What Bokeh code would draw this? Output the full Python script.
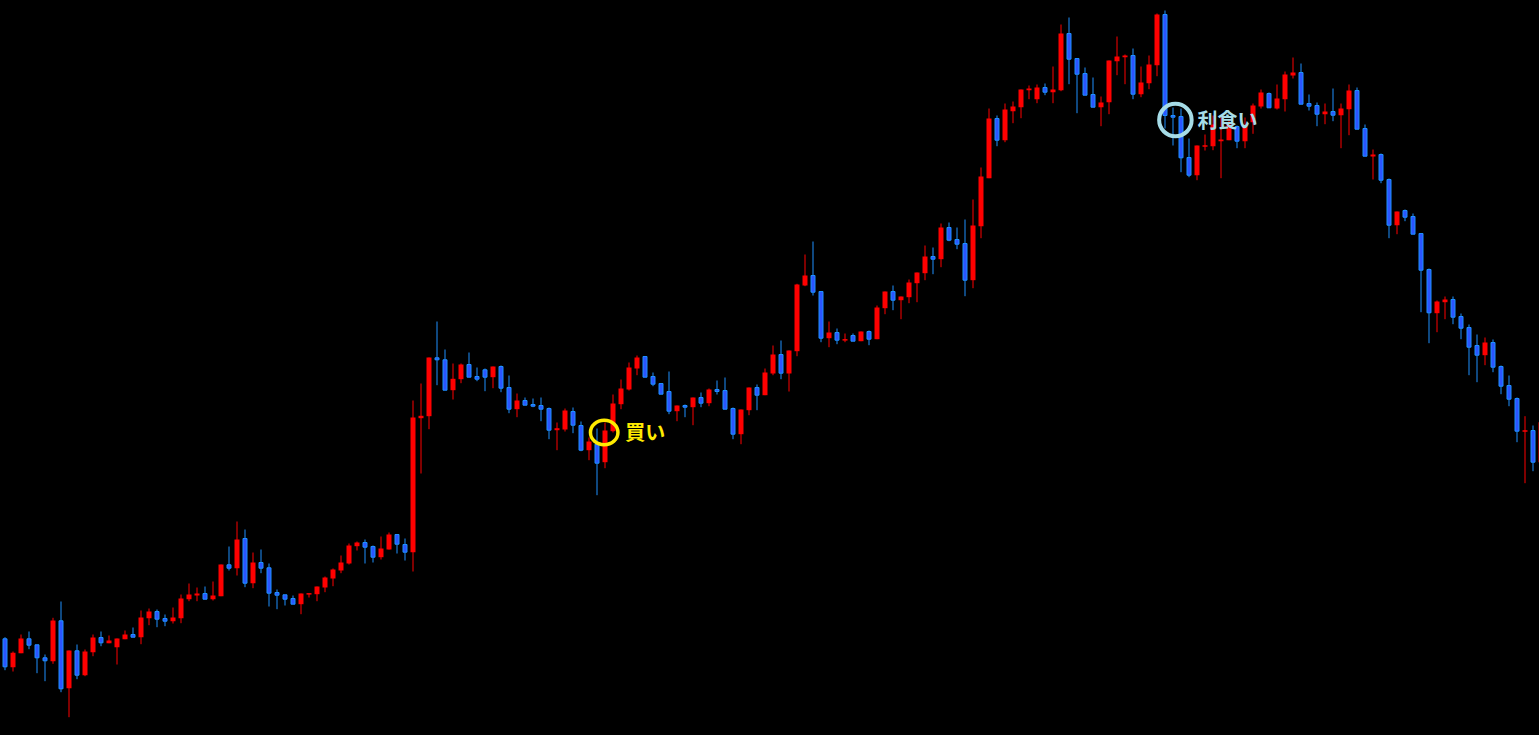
import numpy as np
from bokeh.plotting import figure
from bokeh.models import ColumnDataSource, Range1d
from bokeh.core.properties import value
from bokeh.embed import file_html
from bokeh.resources import INLINE

# OHLC values (price units)
opens = [96.7, 68.3, 82.3, 96.7, 90.7, 77.7, 74.3, 114.7, 47.3, 84.7,
         60.3, 83.3, 98, 92.3, 88.3, 96.3, 101, 98.3, 117.3, 124,
         117, 114.3, 117.3, 136.3, 140, 142, 136.3, 139.3, 170.7, 167.3,
         197, 152.3, 173, 167.7, 143, 140.7, 137, 131.3, 141.3, 141.3,
         148, 157, 165, 172, 189.3, 193, 189, 178.3, 186, 201,
         191, 183.3, 317.3, 319.3, 377.7, 375.7, 345.3, 356.3, 371, 359,
         365.7, 358.3, 369, 348, 326.3, 335, 331, 330, 327, 305.3,
         306, 324, 310, 285.3, 291.3, 273.3, 304.3, 331.3, 346, 367,
         379, 359, 352, 344, 324.3, 330, 328.3, 338, 332.3, 346,
         345, 327, 301.3, 325.3, 348, 340.3, 362, 381, 362, 384.3,
         450, 460, 444, 397.3, 403, 395.3, 400, 394.3, 404, 396.3,
         427.3, 444, 435.3, 438.3, 452.3, 462.3, 479, 476.3, 508, 496,
         492, 455.3, 509.3, 557.3, 617, 595.3, 624.3, 628.3, 645.3, 636.3,
         648, 643.3, 645.3, 702, 677, 662, 641, 628.3, 633.3, 674.3,
         678.3, 680, 641.3, 652.3, 670.3, 721, 620, 619, 578, 560.3,
         589, 589.3, 594.3, 595.3, 609, 594.3, 613.3, 629, 642, 627,
         636.3, 660, 663, 632, 630, 621.3, 624, 620.3, 626.3, 645,
         607, 579, 581, 556, 510.3, 525, 519, 502, 466, 422.3,
         433.3, 436, 419, 408, 390, 380.3, 393, 369, 350, 337,
         304, 305, 273.3]

highs = [98.3, 84, 101, 104, 90.7, 81, 117.7, 134, 85, 91,
         86, 101, 104, 100, 97, 105, 108, 125, 127, 126,
         121, 128, 141, 152, 148, 149, 154, 171, 189, 214,
         206, 183, 186, 172, 146, 140.7, 140, 142, 142, 149,
         159, 167, 180, 192, 194, 196, 190, 199, 203, 201,
         197, 335, 352, 378, 414, 386, 372, 372, 383, 368,
         367, 369, 370, 360, 342, 338, 337, 338, 328, 313,
         327, 328, 314, 298, 307, 313, 341, 356, 373, 380,
         379, 363, 352, 364, 330, 331, 338, 343, 347, 355,
         358, 328, 326, 348, 351, 367, 390, 395, 385, 451.7,
         481, 494, 444, 414, 407, 402, 402, 404, 405, 430,
         444, 450, 439, 456, 463, 490, 488, 512, 513, 508,
         516, 536, 568, 627, 620, 632, 634, 646, 650, 651,
         652, 669, 711, 718, 677, 668, 658, 639, 675, 699,
         681, 687, 669, 680, 722, 725, 628, 627, 597, 590,
         601, 620, 620, 615, 610, 618, 632, 646, 643, 651,
         664, 678, 672, 641, 633, 632, 647, 632, 651, 648,
         611, 586, 582, 557, 524, 526, 522, 502, 467, 435,
         439, 439, 422, 411, 401, 398, 396, 370, 360, 338,
         319.3, 310, 320]

lows = [65.3, 64, 82.3, 86.3, 62.3, 54.3, 71.7, 43.3, 18.3, 56.3,
        59.3, 79.3, 89.3, 92.3, 71, 96.3, 98.3, 91.3, 110.3, 108.3,
        109.3, 112, 112.3, 134.3, 134.3, 136.3, 135, 139.3, 165, 160,
        148.3, 147.3, 162.3, 129, 126.3, 130, 131.3, 121.3, 138, 134.3,
        143.3, 149.3, 162.3, 171, 185, 172, 173, 176, 186, 182,
        175, 164, 262, 306.3, 350.3, 345.3, 336, 352.3, 358.3, 354.3,
        344.3, 347.3, 343.3, 322.3, 318.3, 330.3, 328.3, 314.3, 296.3, 285.3,
        304, 302.3, 284.3, 275.3, 240.3, 267.3, 303, 326.3, 345, 360.3,
        358.3, 349.3, 341.3, 321.3, 314.3, 318.3, 310.3, 328.3, 329.3, 341,
        326.3, 296.3, 291.3, 320.3, 325.3, 340.3, 360.3, 356.3, 344, 379.3,
        449.3, 440, 393.3, 388.3, 391.3, 393.3, 394.3, 394.3, 390.3, 396.3,
        421.3, 425.3, 416.3, 432.3, 433.3, 455.3, 461.3, 468.3, 494.3, 486.3,
        439.3, 447.3, 497.3, 557.3, 589.3, 593.3, 612.3, 617.3, 636.3, 632.3,
        640.3, 632.3, 644.3, 651.3, 622.3, 640.3, 628.3, 609.3, 621.3, 660.3,
        651.3, 636.3, 638.3, 646.3, 659.3, 607, 590, 563.3, 558.3, 555.3,
        585, 585.3, 557.3, 595.3, 587.3, 587.3, 601.7, 627, 627.7, 626,
        624, 657, 631.3, 625, 609.3, 611.3, 614.3, 587.3, 600.3, 606.3,
        579.3, 556, 552.3, 497.3, 501.3, 514.3, 501.3, 423.3, 392.3, 403.3,
        416.3, 411.3, 396.3, 360.3, 353.3, 370.3, 363.3, 341.3, 329.3, 293.3,
        252.3, 264.3, 270]

closes = [68.7, 82.7, 97, 90.3, 77.7, 74.7, 115, 46.7, 85, 60.3,
          84, 98, 92.7, 95, 97, 101, 98.3, 118, 124, 116.3,
          114.3, 118, 137, 141, 142, 136.3, 140, 171, 167.3, 196,
          152.3, 173, 167.3, 142.3, 140.3, 136.3, 131.3, 142, 142, 149,
          158, 166, 173, 190, 193, 188.3, 178.3, 187, 201, 191.3,
          183.3, 318, 319.7, 378, 375.7, 345.3, 356.7, 371, 358.3, 356.3,
          358.3, 369, 347.3, 326.3, 335, 330.3, 329.3, 326.3, 305.3, 307.3,
          325, 310.3, 285.3, 294, 272.3, 305, 332, 347, 368, 378,
          358.3, 351.3, 341.3, 324.3, 330, 328.3, 338, 332.3, 346, 344,
          326.3, 301.3, 326, 348, 340.3, 363, 381, 362.3, 385, 451,
          460, 443.3, 397.3, 403, 395.3, 396, 394.3, 404, 396.3, 428,
          444, 435.3, 439, 453, 463, 479, 476.3, 508, 495.3, 491.3,
          455.3, 510, 559, 617, 595.3, 626, 629, 646, 647, 648,
          643.3, 646, 702, 676.3, 661.3, 640.3, 628.3, 633, 675, 679,
          680, 641.3, 653, 671, 721, 620, 618.3, 577.7, 560.3, 590,
          590, 611, 596, 611, 594.3, 610, 630, 643, 627.7, 637,
          661, 663, 631.3, 629.3, 621.3, 624, 620.3, 627, 645, 606.3,
          579.3, 581, 555.3, 510.3, 524, 518.3, 501.3, 465.3, 422.7, 434,
          436, 418.3, 407.3, 388.3, 380.3, 393, 368.3, 349.3, 336.3, 304.3,
          305, 273.3, 313.3]

# annotations (candle position, price level, label)
buy_x, buy_price, buy_label = 74.9, 303.0, "買い"
take_x, take_price, take_label = 146.3, 615.5, "利食い"

UP_COLOR = "#FF0000"
DOWN_FILL = "#2B55FF"
DOWN_LINE = "#1E90FF"
BUY_COLOR = "#FFEB00"
TAKE_COLOR = "#A6DCE8"

o = np.array(opens, dtype=float)
h = np.array(highs, dtype=float)
l = np.array(lows, dtype=float)
c = np.array(closes, dtype=float)
idx = np.arange(len(o), dtype=float)
up = c >= o
top = np.maximum(o, c)
bot = np.minimum(o, c)
mid = (top + bot) / 2
thin = (top - bot) < 1.5
top = np.where(thin, mid + 0.75, top)
bot = np.where(thin, mid - 0.75, bot)
wick_col = np.where(up, UP_COLOR, DOWN_LINE)

src_all = ColumnDataSource(dict(x=idx, h=h, l=l, col=wick_col))
src_up = ColumnDataSource(dict(x=idx[up], top=top[up], bot=bot[up]))
src_dn = ColumnDataSource(dict(x=idx[~up], top=top[~up], bot=bot[~up]))

W, H = 1539, 735
p = figure(width=W, height=H, x_range=Range1d(-0.5625, 191.8125),
           y_range=Range1d(0, 735), output_backend="svg", toolbar_location=None,
           x_axis_type=None, y_axis_type=None, min_border=0,
           background_fill_color="black", border_fill_color="black",
           outline_line_color=None)
p.grid.visible = False

p.segment(x0="x", y0="l", x1="x", y1="h", line_color="col", line_width=1,
          source=src_all)
p.vbar(x="x", width=0.625, top="top", bottom="bot", fill_color=UP_COLOR,
       line_color=None, source=src_up)
p.vbar(x="x", width=0.5, top="top", bottom="bot", fill_color=DOWN_FILL,
       line_color=DOWN_LINE, line_width=1, source=src_dn)

p.ellipse(x=[buy_x], y=[buy_price], width=27.5, height=24.5,
          width_units="screen", height_units="screen",
          fill_alpha=0, line_color=BUY_COLOR, line_width=3.5)
p.ellipse(x=[take_x], y=[take_price], width=32.5, height=32.5,
          width_units="screen", height_units="screen",
          fill_alpha=0, line_color=TAKE_COLOR, line_width=4)

p.text(x=[buy_x], y=[buy_price], text=[buy_label], x_offset=21, y_offset=-1,
       text_color=BUY_COLOR, text_font=value("Noto Sans CJK JP"),
       text_font_size="20px", text_font_style="bold",
       text_align="left", text_baseline="middle")
p.text(x=[take_x], y=[take_price], text=[take_label], x_offset=22, y_offset=-1,
       text_color=TAKE_COLOR, text_font=value("Noto Sans CJK JP"),
       text_font_size="20px", text_font_style="bold",
       text_align="left", text_baseline="middle")

html = file_html(p, INLINE, title="chart")
html = html.replace("<head>", "<head><style>html,body{margin:0;padding:0;"
                    "background:#000;overflow:hidden}</style>", 1)
open("out.html", "w").write(html)
